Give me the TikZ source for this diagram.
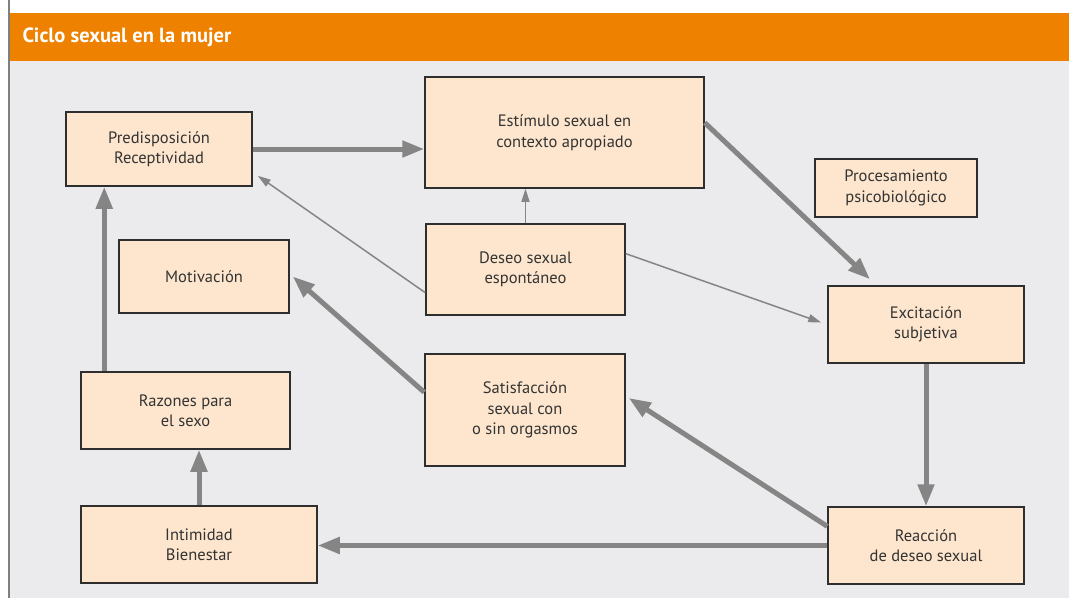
\documentclass[tikz,border=0pt]{standalone}
\usepackage{fontspec}
\setmainfont{PT Sans}
\usetikzlibrary{arrows.meta}
\definecolor{bandorange}{HTML}{EE8200}
\definecolor{panelgray}{HTML}{EBEBED}
\definecolor{boxfill}{HTML}{FDE6CD}
\definecolor{boxline}{HTML}{2E2E2E}
\definecolor{arrowgray}{HTML}{858585}
\definecolor{txtgray}{HTML}{333333}
\begin{document}
\begin{tikzpicture}[x=1pt,y=-1pt,
    box/.style={draw=boxline,line width=1.5pt,fill=boxfill,inner sep=0pt,align=center,
      text=txtgray,font=\fontsize{16.5}{20.5}\selectfont},
    fat/.style={draw=arrowgray,line width=5pt,-{Triangle[length=22pt,width=16pt]}},
    slim/.style={draw=arrowgray,line width=1.5pt,-{Triangle[length=13pt,width=8pt]}}]
  \useasboundingbox (0,0) rectangle (1069,598);
  \fill[white] (0,0) rectangle (1069,598);
  \fill[panelgray] (10,61) rectangle (1069,598);
  \fill[bandorange] (10,13) rectangle (1069,61);
  \draw[gray,line width=2pt] (9,0) -- (9,598);
  \node[anchor=west,text=white,font=\fontsize{20.5}{24}\selectfont\bfseries] (title) at (19,37) {Ciclo sexual en la mujer};
  % boxes
  \node[box,minimum width=186pt,minimum height=74pt] (pred) at (159,149) {Predisposición\\Receptividad};
  \node[box,minimum width=279pt,minimum height=111pt] (estim) at (564.5,132.5) {Estímulo sexual en\\contexto apropiado};
  \node[box,minimum width=162pt,minimum height=58pt] (proc) at (896,188) {Procesamiento\\psicobiológico};
  \node[box,minimum width=199pt,minimum height=91pt] (deseo) at (525.5,269.5) {Deseo sexual\\espontáneo};
  \node[box,minimum width=170pt,minimum height=73pt] (motiv) at (204,276.5) {Motivación};
  \node[box,minimum width=196pt,minimum height=77pt] (excit) at (926,324.5) {Excitación\\subjetiva};
  \node[box,minimum width=209pt,minimum height=77pt] (razon) at (185.5,410.5) {Razones para\\el sexo};
  \node[box,minimum width=200pt,minimum height=112pt] (satis) at (525,410) {Satisfacción\\sexual con\\o sin orgasmos};
  \node[box,minimum width=236pt,minimum height=77pt] (intim) at (199,544.5) {Intimidad\\Bienestar};
  \node[box,minimum width=196pt,minimum height=77pt] (reac) at (926,545.5) {Reacción\\de deseo sexual};
  % connectors
  \draw[fat] (pred.east) -- (estim.west |- pred.east);
  \draw[slim] (deseo.north) -- (deseo.north |- estim.south);
  \draw[slim] (deseo.193) -- ([shift={(5pt,11pt)}]pred.south east);
  \draw[slim] (deseo.9) -- ([shift={(-6pt,2pt)}]excit.west);
  \draw[fat] (estim.4) -- ([shift={(-56pt,6pt)}]excit.north);
  \draw[fat] (excit.south) -- (reac.north);
  \draw[fat] (reac.169) -- ([shift={(3pt,12pt)}]satis.east);
  \draw[fat] (reac.west) -- (reac.west -| intim.east);
  \draw[fat] (intim.north) -- (intim.north |- razon.south);
  \draw[fat] ([xshift=24pt]razon.north west) -- ([xshift=39pt]pred.south west);
  \draw[fat] (satis.170) -- ([xshift=3pt]motiv.east);
\end{tikzpicture}
\end{document}
